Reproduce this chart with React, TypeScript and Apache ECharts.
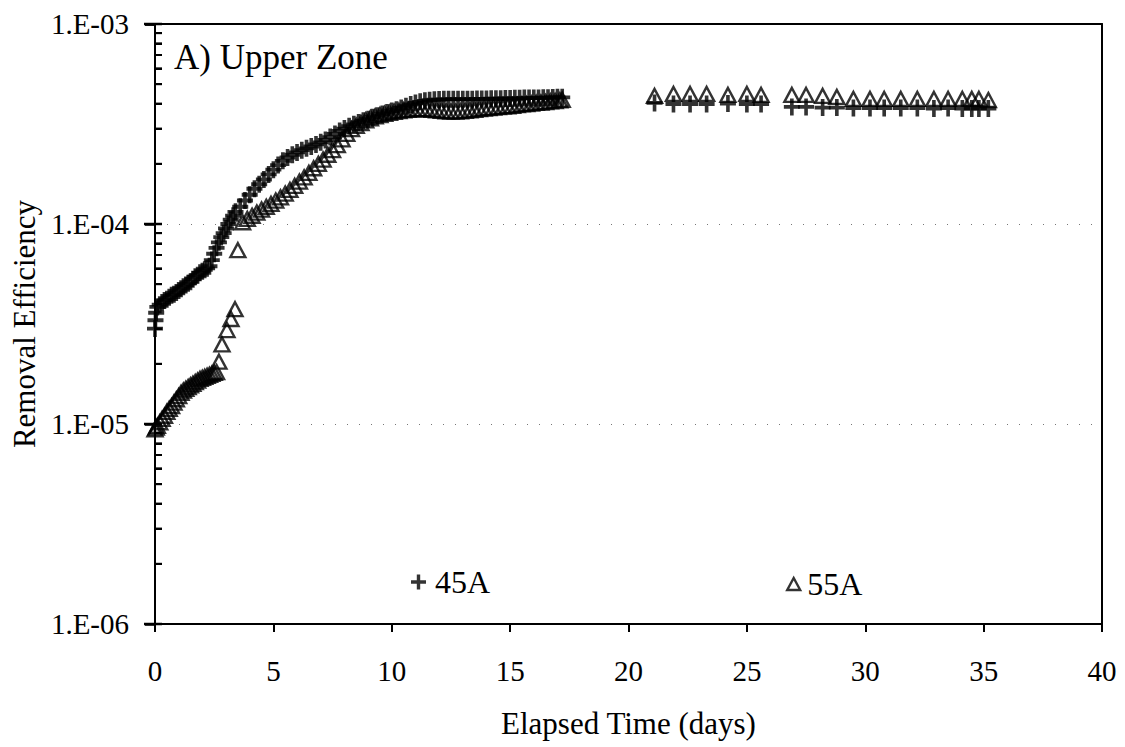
import React, { useEffect, useRef } from "react";
import * as echarts from "echarts";

// ---- data ----
const xTickLabels = ["0", "5", "10", "15", "20", "25", "30", "35", "40"];
const yTickLabels = ["1.E-06", "1.E-05", "1.E-04", "1.E-03"];
const yMajorTicks = [1e-6, 1e-5, 1e-4, 1e-3];
const yMinorTicks = [
  2e-6, 3e-6, 4e-6, 5e-6, 6e-6, 7e-6, 8e-6, 9e-6,
  2e-5, 3e-5, 4e-5, 5e-5, 6e-5, 7e-5, 8e-5, 9e-5,
  2e-4, 3e-4, 4e-4, 5e-4, 6e-4, 7e-4, 8e-4, 9e-4,
];

const s45aDays = [
  0, 0.02, 0.05, 0.1, 0.2, 0.3, 0.4, 0.5, 0.6, 0.7, 0.8, 0.9, 1.0, 1.1, 1.2, 1.3, 1.4, 1.5, 1.6, 1.7,
  1.8, 1.9, 2.0, 2.1, 2.2, 2.3, 2.4, 2.5, 2.6, 2.7, 2.8, 2.9, 3.0, 3.1, 3.2, 3.3, 3.4, 3.6, 3.8, 4.0,
  4.2, 4.4, 4.6, 4.8, 5.0, 5.2, 5.4, 5.6, 5.8, 6.0, 6.2, 6.4, 6.6, 6.8, 7.0, 7.2, 7.4, 7.6, 7.8, 8.0,
  8.2, 8.4, 8.6, 8.8, 9.0, 9.2, 9.4, 9.6, 9.8, 10.0, 10.2, 10.4, 10.6, 10.8, 11.0, 11.2, 11.4, 11.6,
  11.8, 12.0, 12.2, 12.4, 12.6, 12.8, 13.0, 13.2, 13.4, 13.6, 13.8, 14.0, 14.2, 14.4, 14.6, 14.8,
  15.0, 15.2, 15.4, 15.6, 15.8, 16.0, 16.2, 16.4, 16.6, 16.8, 17.0, 17.2,
  21.1, 21.9, 22.6, 23.3, 24.2, 25.0, 25.6, 26.9, 27.5, 28.2, 28.8, 29.5, 30.2, 30.8, 31.5, 32.2,
  32.9, 33.5, 34.1, 34.5, 34.8, 35.2,
];
const s45aValues = [
  3.0e-5, 3.3e-5, 3.6e-5, 3.85e-5, 3.95e-5, 4.05e-5, 4.15e-5, 4.2e-5, 4.3e-5, 4.4e-5, 4.45e-5, 4.55e-5,
  4.65e-5, 4.75e-5, 4.85e-5, 4.95e-5, 5.05e-5, 5.15e-5, 5.3e-5, 5.45e-5, 5.55e-5, 5.7e-5, 5.8e-5, 5.9e-5,
  6.0e-5, 6.15e-5, 6.6e-5, 7.1e-5, 7.6e-5, 8.1e-5, 8.6e-5, 9.0e-5, 9.5e-5, 1.0e-4, 1.05e-4, 1.1e-4,
  1.15e-4, 1.22e-4, 1.31e-4, 1.4e-4, 1.5e-4, 1.58e-4, 1.67e-4, 1.77e-4, 1.87e-4, 1.97e-4, 2.07e-4,
  2.15e-4, 2.22e-4, 2.28e-4, 2.34e-4, 2.39e-4, 2.44e-4, 2.5e-4, 2.56e-4, 2.63e-4, 2.72e-4, 2.82e-4,
  2.92e-4, 3.0e-4, 3.08e-4, 3.15e-4, 3.22e-4, 3.28e-4, 3.34e-4, 3.42e-4, 3.48e-4, 3.55e-4, 3.61e-4,
  3.67e-4, 3.73e-4, 3.8e-4, 3.88e-4, 3.96e-4, 4.03e-4, 4.08e-4, 4.13e-4, 4.16e-4, 4.18e-4, 4.19e-4,
  4.2e-4, 4.2e-4, 4.21e-4, 4.21e-4, 4.2e-4, 4.2e-4, 4.21e-4, 4.22e-4, 4.22e-4, 4.22e-4, 4.23e-4,
  4.23e-4, 4.23e-4, 4.24e-4, 4.24e-4, 4.25e-4, 4.25e-4, 4.26e-4, 4.26e-4, 4.27e-4, 4.27e-4, 4.28e-4,
  4.28e-4, 4.29e-4, 4.3e-4, 4.3e-4,
  4.03e-4, 3.98e-4, 3.98e-4, 3.98e-4, 4.0e-4, 3.98e-4, 3.98e-4, 3.85e-4, 3.85e-4, 3.82e-4, 3.82e-4,
  3.8e-4, 3.8e-4, 3.8e-4, 3.8e-4, 3.8e-4, 3.78e-4, 3.8e-4, 3.78e-4, 3.78e-4, 3.78e-4, 3.78e-4,
];

const s55aDays = [
  0, 0.05, 0.1, 0.2, 0.3, 0.4, 0.5, 0.6, 0.7, 0.8, 0.9, 1.0, 1.1, 1.2, 1.3, 1.4, 1.5, 1.6, 1.7, 1.8,
  1.9, 2.0, 2.1, 2.2, 2.3, 2.4, 2.5, 2.6, 2.7, 2.83, 3.04, 3.21, 3.38, 3.5,
  3.7, 3.9, 4.1, 4.3, 4.5, 4.7, 4.9, 5.1, 5.3, 5.5, 5.7, 5.9, 6.1, 6.3, 6.5, 6.7, 6.9, 7.1, 7.3, 7.5,
  7.7, 7.9, 8.1, 8.3, 8.5, 8.7, 8.9, 9.1, 9.3, 9.5, 9.7, 9.9, 10.1, 10.3, 10.5, 10.7, 10.9, 11.1,
  11.3, 11.5, 11.7, 11.9, 12.1, 12.3, 12.5, 12.7, 12.9, 13.1, 13.3, 13.5, 13.7, 13.9, 14.1, 14.3,
  14.5, 14.7, 14.9, 15.1, 15.3, 15.5, 15.7, 15.9, 16.1, 16.3, 16.5, 16.7, 16.9, 17.1, 17.2,
  21.1, 21.9, 22.6, 23.3, 24.2, 25.0, 25.6, 26.9, 27.5, 28.2, 28.8, 29.5, 30.2, 30.8, 31.5, 32.2,
  32.9, 33.5, 34.1, 34.5, 34.8, 35.2,
];
const s55aValues = [
  9.4e-6, 9.6e-6, 9.8e-6, 1.02e-5, 1.06e-5, 1.1e-5, 1.15e-5, 1.19e-5, 1.23e-5, 1.28e-5, 1.33e-5,
  1.38e-5, 1.43e-5, 1.47e-5, 1.5e-5, 1.53e-5, 1.56e-5, 1.59e-5, 1.62e-5, 1.65e-5, 1.68e-5, 1.7e-5,
  1.72e-5, 1.74e-5, 1.76e-5, 1.78e-5, 1.8e-5, 1.82e-5, 2.05e-5, 2.5e-5, 2.95e-5, 3.35e-5, 3.75e-5,
  7.4e-5,
  1.02e-4, 1.06e-4, 1.1e-4, 1.14e-4, 1.18e-4, 1.22e-4, 1.26e-4, 1.31e-4, 1.36e-4, 1.42e-4, 1.48e-4,
  1.55e-4, 1.63e-4, 1.71e-4, 1.8e-4, 1.9e-4, 2.0e-4, 2.1e-4, 2.22e-4, 2.34e-4, 2.48e-4, 2.65e-4,
  2.82e-4, 2.98e-4, 3.1e-4, 3.2e-4, 3.3e-4, 3.38e-4, 3.45e-4, 3.5e-4, 3.55e-4, 3.6e-4, 3.64e-4,
  3.67e-4, 3.7e-4, 3.72e-4, 3.74e-4, 3.75e-4, 3.75e-4, 3.74e-4, 3.72e-4, 3.7e-4, 3.68e-4, 3.66e-4,
  3.65e-4, 3.65e-4, 3.66e-4, 3.68e-4, 3.7e-4, 3.72e-4, 3.75e-4, 3.78e-4, 3.8e-4, 3.82e-4, 3.84e-4,
  3.86e-4, 3.88e-4, 3.9e-4, 3.93e-4, 3.96e-4, 3.98e-4, 4.0e-4, 4.03e-4, 4.05e-4, 4.07e-4, 4.1e-4,
  4.12e-4, 4.15e-4, 4.18e-4,
  4.37e-4, 4.47e-4, 4.47e-4, 4.47e-4, 4.42e-4, 4.47e-4, 4.42e-4, 4.42e-4, 4.42e-4, 4.37e-4, 4.32e-4,
  4.22e-4, 4.22e-4, 4.22e-4, 4.22e-4, 4.22e-4, 4.22e-4, 4.22e-4, 4.22e-4, 4.22e-4, 4.22e-4, 4.17e-4,
];

const FONT = "'Liberation Serif', 'Times New Roman', serif";
const PLUS = "path://M5.8,0H9.2V5.8H15V9.2H9.2V15H5.8V9.2H0V5.8H5.8Z";

export default function App() {
  const ref = useRef<HTMLDivElement>(null);
  useEffect(() => {
    if (!ref.current) return;
    const chart = echarts.init(ref.current, undefined, { renderer: "svg" });
    const hollowTri = { color: "rgba(0,0,0,0)", borderColor: "#000", borderWidth: 2.4 };
    const xRange = { type: "value", min: 0, max: 40, interval: 5 };
    const yRange = { type: "log", logBase: 10, min: 1e-6, max: 1e-3 };
    chart.setOption({
      animation: false,
      backgroundColor: "#fff",
      textStyle: { fontFamily: FONT, color: "#000" },
      title: {
        text: "A) Upper Zone",
        left: 174,
        top: 40,
        padding: 0,
        textStyle: { fontFamily: FONT, fontSize: 35, fontWeight: "normal", color: "#000" },
      },
      legend: [
        {
          data: [{ name: "45A", icon: PLUS, itemStyle: { color: "#000" } }],
          left: 411,
          top: 566,
          padding: 0,
          itemWidth: 15,
          itemHeight: 16,
          textStyle: { fontFamily: FONT, fontSize: 32, color: "#000", padding: [0, 0, 0, 4] },
        },
        {
          data: [{ name: "55A", icon: "triangle", itemStyle: hollowTri }],
          left: 786,
          top: 568,
          padding: 0,
          itemWidth: 13,
          itemHeight: 12,
          textStyle: { fontFamily: FONT, fontSize: 32, color: "#000", padding: [0, 0, 0, 2] },
        },
      ],
      grid: { left: 155, right: 23, top: 24, bottom: 123 },
      xAxis: [
        {
          ...xRange,
          position: "bottom",
          name: "Elapsed Time (days)",
          nameLocation: "middle",
          nameGap: 84,
          nameTextStyle: { fontFamily: FONT, fontSize: 31, color: "#000" },
          axisLine: { show: true, onZero: false, lineStyle: { color: "#000", width: 2 } },
          axisTick: { show: true, inside: false, length: 8, lineStyle: { color: "#000", width: 2 } },
          axisLabel: {
            margin: 32,
            fontFamily: FONT,
            fontSize: 29,
            color: "#000",
            formatter: (_v: number, i: number) => xTickLabels[i] ?? String(_v),
          },
          splitLine: { show: false },
        },
        {
          ...xRange,
          position: "top",
          axisLine: { show: true, onZero: false, lineStyle: { color: "#000", width: 2 } },
          axisTick: { show: false },
          axisLabel: { show: false },
          splitLine: { show: false },
        },
      ],
      yAxis: [
        {
          ...yRange,
          position: "left",
          name: "Removal Efficiency",
          nameLocation: "middle",
          nameGap: 108,
          nameTextStyle: { fontFamily: FONT, fontSize: 31, color: "#000" },
          axisLine: { show: true, onZero: false, lineStyle: { color: "#000", width: 2 } },
          axisTick: { show: true, inside: true, length: 7, lineStyle: { color: "#000", width: 2 } },
          minorTick: { show: true, splitNumber: 9, length: 7, lineStyle: { color: "#000", width: 2 } },
          axisLabel: {
            margin: 26,
            fontFamily: FONT,
            fontSize: 29,
            color: "#000",
            formatter: (_v: number, i: number) => yTickLabels[i] ?? "",
          },
          splitLine: { show: false },
        },
        {
          ...yRange,
          position: "left",
          axisLine: { show: false, onZero: false },
          axisTick: { show: true, inside: false, length: 10, lineStyle: { color: "#000", width: 2.5 } },
          axisLabel: { show: false },
          splitLine: { show: false },
        },
        {
          ...yRange,
          position: "right",
          axisLine: { show: true, onZero: false, lineStyle: { color: "#000", width: 2 } },
          axisTick: { show: false },
          axisLabel: { show: false },
          splitLine: { show: true, lineStyle: { color: "#777", width: 1, type: [1, 11] } },
        },
      ],
      series: [
        {
          name: "45A",
          type: "scatter",
          xAxisIndex: 0,
          yAxisIndex: 0,
          symbol: PLUS,
          symbolSize: [16, 17],
          itemStyle: { color: "#000" },
          data: s45aDays.map((d, i) => [d, s45aValues[i]]),
          z: 3,
        },
        {
          name: "55A",
          type: "scatter",
          xAxisIndex: 1,
          yAxisIndex: 1,
          symbol: "triangle",
          symbolSize: [15, 14],
          itemStyle: hollowTri,
          data: s55aDays.map((d, i) => [d, s55aValues[i]]),
          z: 2,
        },
        {
          name: "frame",
          type: "scatter",
          xAxisIndex: 0,
          yAxisIndex: 2,
          data: [],
          silent: true,
        },
      ],
    });

    // Tick marks on the log axis, placed through the axis' own scale.
    const ax = chart.convertToPixel({ xAxisIndex: 0 }, 0) as number;
    const tickLine = (v: number, x1: number, x2: number, w: number) => {
      const y = chart.convertToPixel({ yAxisIndex: 0 }, v) as number;
      return {
        type: "line",
        silent: true,
        z: 100,
        shape: { x1, y1: y, x2, y2: y },
        style: { stroke: "#000", lineWidth: w },
      };
    };
    if (typeof ax === "number" && isFinite(ax)) {
      chart.setOption({
        graphic: [
          ...yMajorTicks.map((v) => tickLine(v, ax - 11, ax + 7, 2.5)),
          ...yMinorTicks.map((v) => tickLine(v, ax, ax + 7, 2)),
        ],
      });
    }
    return () => chart.dispose();
  }, []);
  return (
    <div
      ref={ref}
      style={{ position: "absolute", left: 0, top: 0, width: 1125, height: 747, background: "#fff" }}
    />
  );
}
